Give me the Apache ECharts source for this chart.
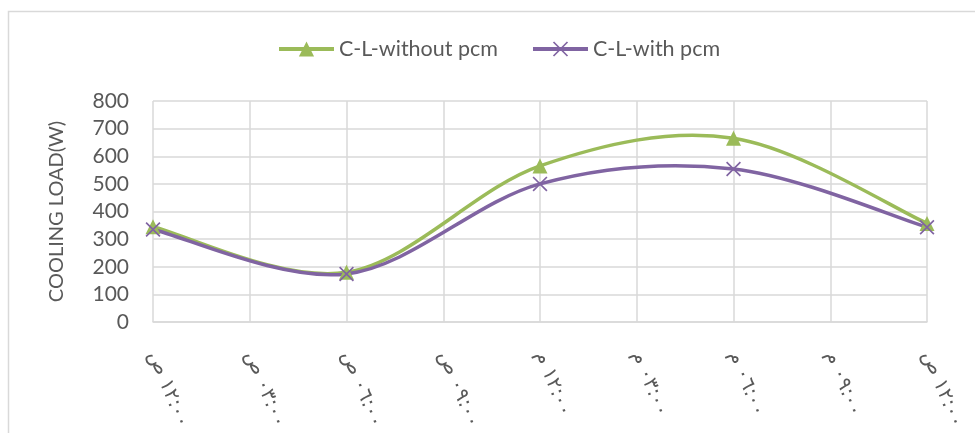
<!DOCTYPE html>
<html>
<head>
<meta charset="utf-8">
<script src="https://cdn.jsdelivr.net/npm/echarts@6/dist/echarts.min.js"></script>
<style>
html,body{margin:0;padding:0;background:#fff;}
#chart{width:975px;height:433px;}
</style>
</head>
<body>
<div id="chart"></div>
<script>
// Categories (time of day, Arabic locale labels)
const categories = ['١٢:٠٠ ص', '٠٣:٠٠ ص', '٠٦:٠٠ ص', '٠٩:٠٠ ص', '١٢:٠٠ م', '٠٣:٠٠ م', '٠٦:٠٠ م', '٠٩:٠٠ م', '١٢:٠٠ ص'];
// Series values (W); null = no measurement at that category
const withoutPcm = [345, null, 180, null, 565, null, 665, null, 357];
const withPcm = [335, null, 174, null, 500, null, 554, null, 343];
const seriesNames = ['C-L-without pcm', 'C-L-with pcm'];
const yAxisName = 'COOLING LOAD(W)';
const yMin = 0, yMax = 800, yStep = 100;

const FONT = 'Lato, "DejaVu Sans", sans-serif';
const TXT = '#595959';
const GRID = '#d9d9d9';
const GREEN = '#9BBB59';
const PURPLE = '#8064A2';
const XSYM = 'path://M0,0.8 L0.8,0 L10,9.2 L9.2,10 Z M9.2,0 L10,0.8 L0.8,10 L0,9.2 Z';

// pairs [categoryIndex, value] of the measured points
function pointsOf(arr) {
  const out = [];
  arr.forEach((v, i) => { if (v !== null) out.push([i, v]); });
  return out;
}

// Excel-like smoothed curve (Catmull-Rom -> cubic Bezier), positioned through the chart's own axes
function smoothCurve(arr, color) {
  const pts = pointsOf(arr);
  return {
    type: 'custom',
    name: 'curve-' + color,
    data: pts,
    encode: {x: 0, y: 1},
    silent: true,
    z: 2,
    renderItem: function (params, api) {
      if (params.dataIndex !== 0) return null;
      const p = pts.map(d => api.coord(d));
      const n = p.length;
      let d = 'M' + p[0][0] + ' ' + p[0][1];
      for (let i = 0; i < n - 1; i++) {
        const p0 = p[Math.max(i - 1, 0)], p1 = p[i], p2 = p[i + 1], p3 = p[Math.min(i + 2, n - 1)];
        const c1x = p1[0] + (p2[0] - p0[0]) / 6, c1y = p1[1] + (p2[1] - p0[1]) / 6;
        const c2x = p2[0] - (p3[0] - p1[0]) / 6, c2y = p2[1] - (p3[1] - p1[1]) / 6;
        d += ' C' + c1x + ' ' + c1y + ' ' + c2x + ' ' + c2y + ' ' + p2[0] + ' ' + p2[1];
      }
      return {
        type: 'path',
        shape: {pathData: d},
        style: {fill: null, stroke: color, lineWidth: 3.5, lineCap: 'round', lineJoin: 'round'}
      };
    }
  };
}

function markerSeries(name, arr, symbol, color) {
  return {
    name: name, type: 'line', data: arr, connectNulls: true,
    symbol: symbol, symbolSize: 15, showAllSymbol: true, z: 3,
    lineStyle: {color: color, width: 3.5, opacity: 0},
    itemStyle: {color: color, borderWidth: 0}
  };
}

const chart = echarts.init(document.getElementById('chart'), null, {renderer: 'canvas'});
chart.setOption({
  animation: false,
  backgroundColor: '#fff',
  textStyle: {fontFamily: FONT},
  graphic: [{
    type: 'rect', silent: true,
    shape: {x: 8.5, y: 11.5, width: 1200, height: 1200},
    style: {fill: 'none', stroke: GRID, lineWidth: 1.5}
  }],
  legend: {
    left: 272, top: 33,
    itemWidth: 55, itemHeight: 19, itemGap: 33,
    lineStyle: {width: 4, opacity: 1},
    textStyle: {color: TXT, fontSize: 21.5, fontFamily: FONT},
    data: seriesNames
  },
  grid: {left: 153, right: 48, top: 101, bottom: 111, containLabel: false},
  xAxis: {
    type: 'category', boundaryGap: false, data: categories,
    axisLine: {show: true, lineStyle: {color: GRID, width: 1.5}},
    axisTick: {show: false},
    splitLine: {show: true, lineStyle: {color: GRID, width: 1.5}},
    axisLabel: {rotate: -68, margin: 30, color: TXT, fontSize: 20, fontFamily: '"DejaVu Sans", sans-serif', interval: 0}
  },
  yAxis: {
    type: 'value', min: yMin, max: yMax, interval: yStep,
    name: yAxisName, nameLocation: 'middle', nameGap: 86, nameRotate: 90,
    nameTextStyle: {color: TXT, fontSize: 20, fontFamily: FONT},
    axisLine: {show: false}, axisTick: {show: false},
    splitLine: {show: true, lineStyle: {color: GRID, width: 1.5}},
    axisLabel: {color: TXT, fontSize: 21, fontFamily: FONT, margin: 24}
  },
  series: [
    smoothCurve(withoutPcm, GREEN),
    markerSeries(seriesNames[0], withoutPcm, 'triangle', GREEN),
    smoothCurve(withPcm, PURPLE),
    markerSeries(seriesNames[1], withPcm, XSYM, PURPLE)
  ]
});
</script>
</body>
</html>
